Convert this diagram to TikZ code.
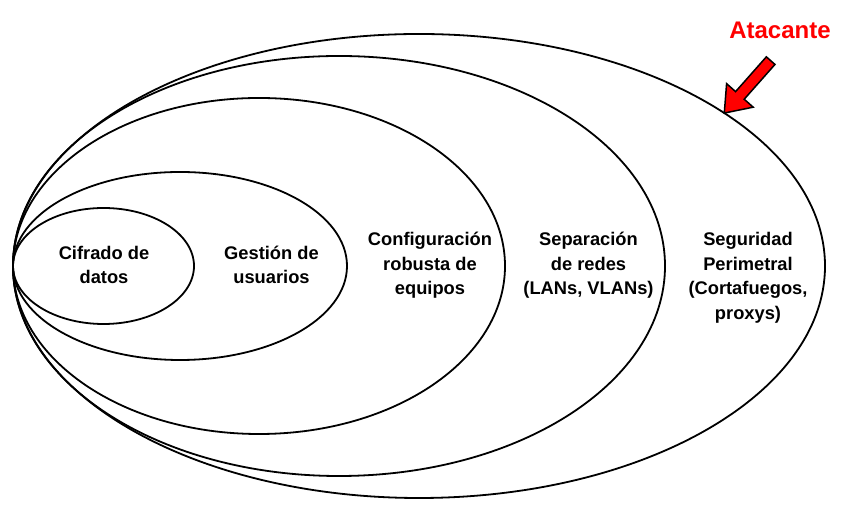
\documentclass[tikz,border=0pt]{standalone}
\usepackage{fontspec}
\setmainfont{Liberation Sans}
\usepackage{xcolor}
\usepackage{tikz}
\usetikzlibrary{shapes.geometric, shapes.arrows, positioning}
\definecolor{attackred}{RGB}{255, 0, 0}

\begin{document}
\begin{tikzpicture}[x=1bp, y=1bp,
    layer/.style={ellipse, draw, line width=1.8bp, inner sep=0pt},
    lbl/.style={align=center, font=\bfseries\fontsize{18.3bp}{24.5bp}\selectfont}]
    \useasboundingbox (0,0) rectangle (859,511);
    % Layers, all touching at the left
    \node[layer, minimum width=812bp, minimum height=464bp] (perimetral) at (419,245) {};
    \node[layer, minimum width=652bp, minimum height=420bp] (redes) at (339,245) {};
    \node[layer, minimum width=492bp, minimum height=336bp] (equipos) at (259,245) {};
    \node[layer, minimum width=334bp, minimum height=188bp] (usuarios) at (180,245) {};
    \node[layer, minimum width=181bp, minimum height=116bp] (datos) at (103.5,245) {};

    % Labels
    \node[lbl] (tdatos) at (104,246) {Cifrado de\\datos};
    \node[lbl] (tusuarios) at (271.5,246) {Gestión de\\usuarios};
    \node[lbl] (tequipos) at (430,245.5) {Configuración\\robusta de\\equipos};
    \node[lbl] (tredes) at (588.5,245.5) {Separación\\de redes\\(LANs, VLANs)};
    \node[lbl] (tperimetral) at (748,233) {Seguridad\\Perimetral\\(Cortafuegos,\\proxys)};

    % Attacker
    \node[attackred, font=\bfseries\fontsize{24bp}{28bp}\selectfont] (atacante) at (780,481) {Atacante};
    \node[single arrow, draw=black, fill=attackred, line width=1.5bp, inner sep=5bp,
          minimum height=70bp, minimum width=34bp, single arrow head extend=12bp,
          single arrow tip angle=74, rotate=228.5] (flecha) at (750,427) {};
\end{tikzpicture}
\end{document}
